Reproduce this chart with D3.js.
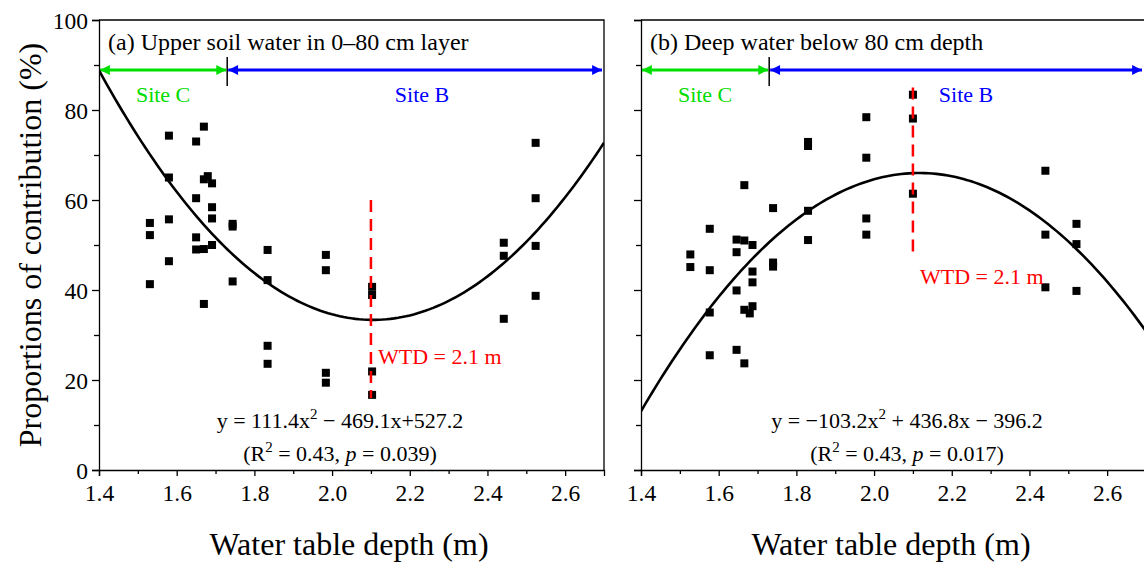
<!DOCTYPE html>
<html>
<head>
<meta charset="utf-8">
<script src="https://cdn.jsdelivr.net/npm/d3@7"></script>
<style>
  body { margin: 0; background: #fff; }
  svg { display: block; font-family: "Liberation Serif", "Times New Roman", serif; }
  svg text { font-family: "Liberation Serif", "Times New Roman", serif; }
</style>
</head>
<body>
<div id="chart"></div>
<script>
// data
const upperX = [1.531, 1.531, 1.531, 1.580, 1.580, 1.580, 1.580, 1.650, 1.650, 1.650, 1.650,
  1.670, 1.670, 1.670, 1.670, 1.680, 1.691, 1.691, 1.691, 1.691, 1.744, 1.744, 1.744,
  1.834, 1.834, 1.834, 1.834, 1.984, 1.984, 1.984, 1.984, 2.103, 2.103, 2.103, 2.103,
  2.442, 2.442, 2.442, 2.524, 2.524, 2.524, 2.524];
const upperY = [54.9, 52.2, 41.3, 74.3, 65.0, 55.7, 46.4, 73.0, 60.4, 51.7, 49.0,
  76.3, 64.6, 49.1, 36.9, 65.3, 63.7, 58.4, 55.9, 50.0, 54.7, 54.1, 41.9,
  48.9, 42.2, 27.6, 23.6, 47.8, 44.4, 21.6, 19.4, 40.7, 38.9, 21.9, 16.7,
  50.5, 47.6, 33.6, 72.7, 60.4, 49.8, 38.7];

const deepX = [1.527, 1.527, 1.577, 1.577, 1.577, 1.577, 1.646, 1.646, 1.646, 1.646,
  1.666, 1.666, 1.666, 1.666, 1.687, 1.687, 1.687, 1.687, 1.680, 1.740, 1.740, 1.740,
  1.830, 1.830, 1.830, 1.830, 1.980, 1.980, 1.980, 1.980, 2.100, 2.100, 2.100,
  2.441, 2.441, 2.441, 2.521, 2.521, 2.521];
const deepY = [47.9, 45.1, 53.6, 44.4, 35.0, 25.5, 51.2, 48.4, 39.9, 26.7,
  63.3, 51.0, 35.6, 23.7, 50.0, 44.1, 41.7, 36.4, 34.8, 58.2, 46.1, 45.2,
  72.9, 72.0, 57.6, 51.1, 78.4, 69.4, 55.9, 52.3, 83.4, 78.1, 61.4,
  66.5, 52.3, 40.6, 54.7, 50.2, 39.8];

// quadratic fits as printed on the chart: [a, b, c] for a*x^2 + b*x + c
const upperFit = [111.4, -469.1, 527.2];
const deepFit = [-103.2, 436.8, -396.2];

const xMajor = [1.4, 1.6, 1.8, 2.0, 2.2, 2.4, 2.6];
const xMinor = [1.5, 1.7, 1.9, 2.1, 2.3, 2.5];
const yMajor = [0, 20, 40, 60, 80, 100];
const yMinor = [10, 30, 50, 70, 90];

const siteSplit = 1.73;
const arrowLevel = 88.9;
const wtd = 2.1;

const panels = [
  { key: 'a', left: 99, xs: upperX, ys: upperY, fit: upperFit,
    title: '(a) Upper soil water in 0\u201380 cm layer',
    eq: ['y = 111.4x', '2', ' \u2212 469.1x+527.2'], r2: '0.43', p: '0.039',
    wtdRange: [16, 60], wtdLabel: 25.3, labels: true },
  { key: 'b', left: 641, xs: deepX, ys: deepY, fit: deepFit,
    title: '(b) Deep water below 80 cm depth',
    eq: ['y = \u2212103.2x', '2', ' + 436.8x \u2212 396.2'], r2: '0.43', p: '0.017',
    wtdRange: [47, 85], wtdLabel: 43.2, labels: false }
];

const W = 1144, H = 565;
const plotTop = 20, plotBottom = 470, pw = 505;

const svg = d3.select('#chart').append('svg')
  .attr('width', W).attr('height', H);

const defs = svg.append('defs');
[['green', '#00e000'], ['blue', '#0000ff']].forEach(([n, c]) => {
  ['start', 'end'].forEach(side => {
    defs.append('marker')
      .attr('id', 'arr-' + n + '-' + side)
      .attr('viewBox', '0 0 10 10')
      .attr('refX', side === 'end' ? 10 : 0).attr('refY', 5)
      .attr('markerWidth', 4.4).attr('markerHeight', 3.3)
      .attr('orient', 'auto')
      .attr('markerUnits', 'strokeWidth')
      .append('path')
      .attr('d', side === 'end' ? 'M0,0L10,5L0,10Z' : 'M10,0L0,5L10,10Z')
      .attr('fill', c);
  });
});

panels.forEach(pn => {
  const x = d3.scaleLinear().domain([1.4, 2.7]).range([pn.left, pn.left + pw]);
  const y = d3.scaleLinear().domain([0, 100]).range([plotBottom, plotTop]);
  const g = svg.append('g');

  defs.append('clipPath').attr('id', 'clip-' + pn.key)
    .append('rect')
    .attr('x', pn.left).attr('y', plotTop)
    .attr('width', pw).attr('height', plotBottom - plotTop);

  // frame (top / right)
  g.append('path')
    .attr('d', `M${pn.left},${plotTop}H${pn.left + pw}V${plotBottom}`)
    .attr('fill', 'none').attr('stroke', '#000').attr('stroke-width', 1.3);

  // x axis
  const xa = g.append('g').attr('transform', `translate(0,${plotBottom})`)
    .call(d3.axisBottom(x).tickValues(xMajor).tickSize(6).tickPadding(6)
      .tickFormat(d3.format('.1f')));
  g.append('g').attr('transform', `translate(0,${plotBottom})`)
    .call(d3.axisBottom(x).tickValues(xMinor).tickSize(4).tickFormat(''))
    .select('.domain').remove();

  // y axis
  const ya = g.append('g').attr('transform', `translate(${pn.left},0)`)
    .call(d3.axisLeft(y).tickValues(yMajor).tickSize(7).tickPadding(4)
      .tickFormat(pn.labels ? d3.format('d') : ''));
  g.append('g').attr('transform', `translate(${pn.left},0)`)
    .call(d3.axisLeft(y).tickValues(yMinor).tickSize(5).tickFormat(''))
    .select('.domain').remove();

  [xa, ya].forEach(ax => ax
    .attr('font-family', '"Liberation Serif", serif')
    .attr('font-size', 23.5));
  g.selectAll('.domain').attr('stroke-width', 1.3);
  g.selectAll('.tick line').attr('stroke-width', 1.3);
  g.selectAll('.tick text')
    .style('font-family', '"Liberation Serif", "Times New Roman", serif')
    .style('font-size', '23.5px').attr('fill', '#000');
  xa.selectAll('.tick text').attr('dy', '0.8em');
  ya.selectAll('.tick text').attr('dy', '0.34em');

  // axis title
  g.append('text')
    .attr('x', pn.left + 250).attr('y', 555)
    .attr('text-anchor', 'middle').attr('font-size', 32)
    .text('Water table depth (m)');

  // title
  g.append('text')
    .attr('x', pn.left + 9).attr('y', 50)
    .attr('font-size', 24)
    .text(pn.title);

  // site arrows
  const ay = y(arrowLevel);
  g.append('line')
    .attr('x1', x(1.4) + 1).attr('x2', x(siteSplit) - 1)
    .attr('y1', ay).attr('y2', ay)
    .attr('stroke', '#00e000').attr('stroke-width', 3)
    .attr('marker-start', 'url(#arr-green-start)')
    .attr('marker-end', 'url(#arr-green-end)');
  g.append('line')
    .attr('x1', x(siteSplit) + 1).attr('x2', Math.min(x(2.7), W) - 2)
    .attr('y1', ay).attr('y2', ay)
    .attr('stroke', '#0000ff').attr('stroke-width', 3)
    .attr('marker-start', 'url(#arr-blue-start)')
    .attr('marker-end', 'url(#arr-blue-end)');
  g.append('line')
    .attr('x1', x(siteSplit)).attr('x2', x(siteSplit))
    .attr('y1', ay - 13).attr('y2', ay + 16)
    .attr('stroke', '#000').attr('stroke-width', 1.5);
  g.append('text')
    .attr('x', (x(1.4) + x(siteSplit)) / 2).attr('y', ay + 32)
    .attr('text-anchor', 'middle').attr('font-size', 22).attr('fill', '#00dd00')
    .text('Site C');
  g.append('text')
    .attr('x', pn.key === 'a' ? 422 : 966).attr('y', ay + 32)
    .attr('text-anchor', 'middle').attr('font-size', 22).attr('fill', '#0000ff')
    .text('Site B');

  // fitted curve
  const grid = d3.range(1.4, 2.7001, 0.01);
  const [a, b, c] = pn.fit;
  g.append('path')
    .datum(grid)
    .attr('clip-path', `url(#clip-${pn.key})`)
    .attr('d', d3.line().x(d => x(d)).y(d => y(a * d * d + b * d + c)))
    .attr('fill', 'none').attr('stroke', '#000').attr('stroke-width', 2.6);

  // points
  g.selectAll('rect.pt').data(pn.xs.map((v, i) => [v, pn.ys[i]]))
    .enter().append('rect')
    .attr('class', 'pt')
    .attr('x', d => x(d[0]) - 4).attr('y', d => y(d[1]) - 4)
    .attr('width', 8).attr('height', 8).attr('fill', '#000');

  // WTD line
  g.append('line')
    .attr('x1', x(wtd)).attr('x2', x(wtd))
    .attr('y1', y(pn.wtdRange[1])).attr('y2', y(pn.wtdRange[0]))
    .attr('stroke', '#ff0000').attr('stroke-width', 2.5)
    .attr('stroke-dasharray', '12,7');
  g.append('text')
    .attr('x', x(wtd) + 7).attr('y', y(pn.wtdLabel) + 8)
    .attr('font-size', 22).attr('fill', '#ff0000')
    .text('WTD = 2.1 m');

  // equation
  const cx = pn.key === 'a' ? 340 : 907;
  const eq = g.append('text')
    .attr('x', cx).attr('y', 428)
    .attr('text-anchor', 'middle').attr('font-size', 22);
  eq.append('tspan').text(pn.eq[0]);
  eq.append('tspan').attr('dy', -9).attr('font-size', 15).text(pn.eq[1]);
  eq.append('tspan').attr('dy', 9).text(pn.eq[2]);

  const r = g.append('text')
    .attr('x', cx).attr('y', 461)
    .attr('text-anchor', 'middle').attr('font-size', 22);
  r.append('tspan').text('(R');
  r.append('tspan').attr('dy', -9).attr('font-size', 15).text('2');
  r.append('tspan').attr('dy', 9).text(' = ' + pn.r2 + ', ');
  r.append('tspan').attr('font-style', 'italic').text('p');
  r.append('tspan').text(' = ' + pn.p + ')');
});

// y axis title
svg.append('text')
  .attr('transform', 'translate(41,245) rotate(-90)')
  .attr('text-anchor', 'middle').attr('font-size', 32)
  .text('Proportions of contribution (%)');
</script>
</body>
</html>
